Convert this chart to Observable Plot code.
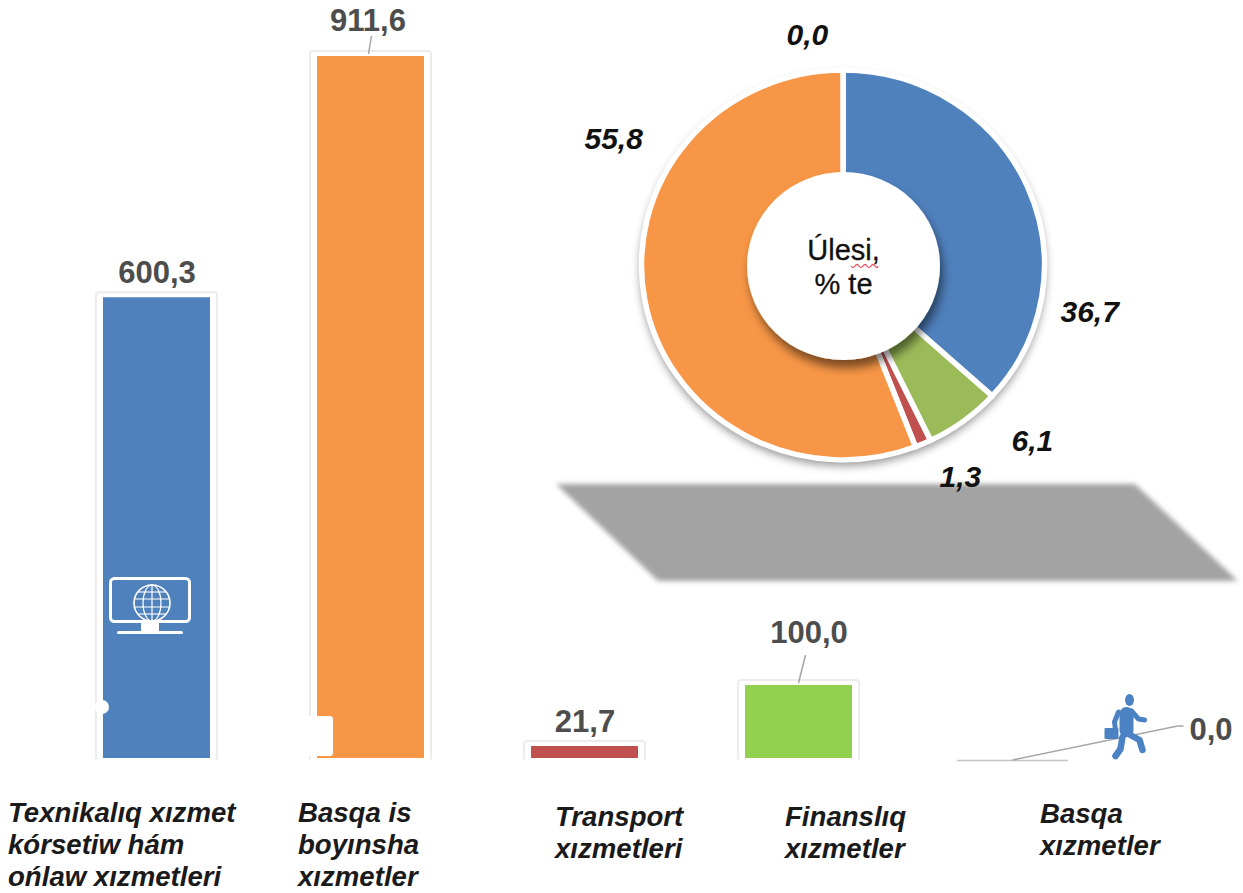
<!DOCTYPE html>
<html>
<head>
<meta charset="utf-8">
<script src="https://cdn.jsdelivr.net/npm/d3@7"></script>
<script src="https://cdn.jsdelivr.net/npm/@observablehq/plot@0.6"></script>
<style>
html,body{margin:0;padding:0;background:#fff;}
svg{display:block;}
</style>
</head>
<body>
<div id="chart"></div>
<script>
const categories = ["Texnikalıq xızmet\nkórsetiw hám\nońlaw xızmetleri", "Basqa is\nboyınsha\nxızmetler", "Transport\nxızmetleri", "Finanslıq\nxızmetler", "Basqa\nxızmetler"];
const barValues = [600.3, 911.6, 21.7, 100.0, 0.0];
const barColors = ["#4f81bd", "#f79646", "#c0504d", "#92d050", "#4f81bd"];
const sliceNames = ["Texnikalıq", "Finanslıq", "Transport", "Basqa", "Basqa is"];
const sliceValues = [36.7, 6.1, 1.3, 0.0, 55.8];
const sliceColors = ["#4f81bd", "#9bbb59", "#c0504d", "#8064a2", "#f79646"];
const centerLabel = "Úlesi,\n% te";

const comma = v => v.toFixed(1).replace(".", ",");
const bars = categories.map((c, i) => ({cat: c, val: barValues[i], color: barColors[i]}));
const drawn = bars.filter(d => d.val > 0);
const FONT = "'Liberation Sans', Arial, sans-serif";
const NS = "http://www.w3.org/2000/svg";

function el(tag, attrs, parent) {
  const n = document.createElementNS(NS, tag);
  for (const k in attrs) n.setAttribute(k, attrs[k]);
  if (parent) parent.appendChild(n);
  return n;
}

// Value labels above the bars
const valueLabel = (i, dx, dy) => Plot.text([bars[i]], {
  x: "cat", y: "val", text: d => comma(d.val), dx, dy, lineAnchor: "bottom",
  fontSize: 31, fontWeight: "bold", fill: "#4d4d4d", fontFamily: FONT
});
// Category captions under the bars
const catLabel = (i, dx, dy) => Plot.text([categories[i]], {
  x: d => d, text: d => d, frameAnchor: "top", dx, dy, lineAnchor: "top", lineHeight: 1.155, textAnchor: "start",
  fontSize: 27.6, fontWeight: "bold", fontStyle: "italic", fill: "#1a1a1a", fontFamily: FONT
});
// Share labels around the ring
const shareLabel = (i, dx, dy) => Plot.text([sliceValues[i]], {
  text: d => comma(d), frameAnchor: "top-left", dx, dy,
  fontSize: 30, fontWeight: "bold", fontStyle: "italic", fill: "#111", fontFamily: FONT
});

// Grey parallelogram behind the ring chart
function backdrop() {
  const g = el("g", {});
  const defs = el("defs", {}, g);
  const blur = el("filter", {id: "pgBlur", x: "-5%", y: "-10%", width: "110%", height: "120%"}, defs);
  el("feGaussianBlur", {stdDeviation: 2.5}, blur);
  const outer = el("filter", {id: "ringShadow", x: "-15%", y: "-15%", width: "130%", height: "130%"}, defs);
  el("feDropShadow", {dx: 0, dy: 5, stdDeviation: 4, "flood-color": "#000", "flood-opacity": 0.4}, outer);
  const inner = el("filter", {id: "holeShadow", x: "-30%", y: "-30%", width: "160%", height: "160%"}, defs);
  el("feDropShadow", {dx: 3, dy: 8, stdDeviation: 5, "flood-color": "#000", "flood-opacity": 0.5}, inner);
  el("path", {d: "M556,484 L1135,484 L1238,581 L658,581 Z", fill: "#a3a3a3", filter: "url(#pgBlur)"}, g);
  return g;
}

function ring() {
  const g = el("g", {});
  const cx = 843, cy = 265, sy = 0.967;
  el("ellipse", {cx, cy, rx: 203, ry: 196, fill: "#fff", filter: "url(#ringShadow)"}, g);
  const pie = d3.pie().sort(null)(sliceValues);
  const arc = d3.arc().innerRadius(85).outerRadius(201.5);
  const t = el("g", {transform: `translate(${cx},${cy}) scale(1,${sy})`}, g);
  pie.forEach((p, i) => {
    if (p.value === 0) return;
    el("path", {d: arc(p), fill: sliceColors[i], stroke: "#fff", "stroke-width": 5.5, "stroke-linejoin": "miter"}, t);
  });
  el("ellipse", {cx: cx + 0.5, cy: cy + 1, rx: 96.5, ry: 94, fill: "#fff", filter: "url(#holeShadow)"}, g);
  // spell-check squiggle under the word
  el("path", {d: "M851,266 q2,3 4,0 q2,-3 4,0 q2,3 4,0 q2,-3 4,0 q2,3 4,0 q2,-3 4,0 q2,3 3,0", fill: "none", stroke: "#e8505f", "stroke-width": 1.3}, g);
  return g;
}

function leaders(index, {x, y}) {
  const g = el("g", {fill: "none", stroke: "#a6a6a6", "stroke-width": 1.5});
  const bw = x.bandwidth();
  const cx = i => x(categories[i]) + bw / 2;
  el("path", {d: `M${cx(1) - 2},${y(911.6) - 2} L${cx(1) + 1},${y(911.6) - 20}`}, g);
  el("path", {d: `M${cx(3)},${y(100) - 2} L${cx(3) + 7},${y(100) - 30}`}, g);
  el("path", {d: `M${cx(4)},${y(0) + 2} L${cx(4) + 165},${y(0) - 32} L${cx(4) + 171},${y(0) - 32}`}, g);
  return g;
}

function icons(index, {x, y}) {
  const g = el("g", {});
  const x0 = x(categories[0]), y0 = y(0);
  // white blemishes at the bar edges
  el("circle", {cx: x0 - 1, cy: y0 - 51, r: 7, fill: "#fff"}, g);
  el("rect", {x: x(categories[1]) - 9, y: y0 - 42, width: 25, height: 40, rx: 3, fill: "#fff"}, g);
  // monitor with a globe
  const m = el("g", {transform: `translate(${x0 + 6},${y0 - 181})`, fill: "none", stroke: "#fff"}, g);
  el("rect", {x: 1.5, y: 1.5, width: 79, height: 43, rx: 4, "stroke-width": 3}, m);
  el("rect", {x: 32, y: 46, width: 18, height: 9, fill: "#fff", stroke: "none"}, m);
  el("rect", {x: 8, y: 54, width: 66, height: 3, rx: 1.5, fill: "#fff", stroke: "none"}, m);
  el("circle", {cx: 43, cy: 26, r: 18, "stroke-width": 1.6}, m);
  el("ellipse", {cx: 43, cy: 26, rx: 9, ry: 18, "stroke-width": 1.2}, m);
  el("line", {x1: 43, x2: 43, y1: 8, y2: 44, "stroke-width": 1.2}, m);
  [-11, -4, 4, 11].forEach(d => {
    const w = Math.sqrt(18 * 18 - d * d);
    el("line", {x1: 43 - w, x2: 43 + w, y1: 26 + d, y2: 26 + d, "stroke-width": 1.1}, m);
  });
  // running figure with a briefcase
  const xr = x(categories[4]) + 107 / 2;
  const r = el("g", {transform: `translate(${xr + 117},${y0 - 58})`, fill: "none", stroke: "#4a82c4", "stroke-linecap": "round", "stroke-linejoin": "round"}, g);
  el("ellipse", {cx: 0, cy: 0, rx: 4.5, ry: 6, fill: "#4a82c4", stroke: "none"}, r);
  el("path", {d: "M-3,14 L-3,30", "stroke-width": 14}, r);
  el("path", {d: "M2,11 L9,19 L15,20", "stroke-width": 5}, r);
  el("path", {d: "M-11,12 L-15,22 L-14,30", "stroke-width": 5}, r);
  el("rect", {x: -25, y: 28, width: 14, height: 11, rx: 1, fill: "#4a82c4", stroke: "none"}, r);
  el("path", {d: "M-1,34 L10,40 L13,50", "stroke-width": 6.5}, r);
  el("path", {d: "M-7,37 L-9,49 L-14,56", "stroke-width": 6.5}, r);
  return g;
}

const plot = Plot.plot({
  width: 1243, height: 893,
  marginTop: 0, marginRight: 0, marginBottom: 0, marginLeft: 0,
  style: {background: "#fff", fontFamily: FONT},
  x: {type: "band", domain: categories, range: [49, 1120.5], paddingInner: 0.5, paddingOuter: 0.25, axis: null},
  y: {type: "linear", domain: [0, 21.7, 100, 911.6], range: [758, 746, 685, 56], axis: null},
  marks: [
    backdrop,
    ring,
    Plot.barY(drawn, {x: "cat", y: "val", fill: "#fff", stroke: "#ececec", strokeWidth: 2, rx: 3, insetLeft: -7, insetRight: -7, insetTop: -5, insetBottom: -3}),
    Plot.ruleY([0], {stroke: "#fff", strokeWidth: 6, dy: 4}),
    Plot.barY(drawn, {x: "cat", y: "val", fill: "color"}),
    Plot.tickY(bars.filter(d => d.val === 0), {x: "cat", y: "val", stroke: "#c4c4c4", strokeWidth: 1.5, dy: 2, insetLeft: -2, insetRight: -2}),
    leaders,
    icons,
    valueLabel(0, 0, -15),
    valueLabel(1, -3, -26),
    valueLabel(2, 0, -15),
    valueLabel(3, 10, -43),
    valueLabel(4, 198, -19),
    catLabel(0, -149, 799),
    catLabel(1, -73, 799),
    catLabel(2, -30, 803),
    catLabel(3, -14, 803),
    catLabel(4, 27, 800),
    shareLabel(0, 1060, 300),
    shareLabel(1, 1011, 429),
    shareLabel(2, 939, 465),
    shareLabel(3, 786, 23),
    shareLabel(4, 584, 127),
    Plot.text([centerLabel], {
      text: d => d, frameAnchor: "top-left", dx: 843, dy: 236, lineHeight: 1.15, textAnchor: "middle",
      fontSize: 29, fill: "#111", stroke: "#111", strokeWidth: 0.3, fontFamily: FONT
    })
  ]
});
document.getElementById("chart").appendChild(plot);
</script>
</body>
</html>
